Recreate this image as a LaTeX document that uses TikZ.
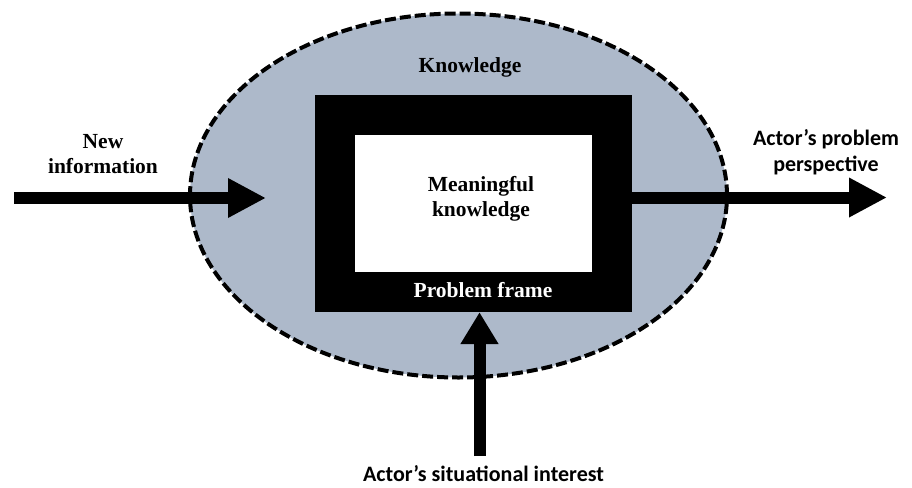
\documentclass[tikz,border=0pt]{standalone}
\usepackage{fontspec}
\setmainfont{Liberation Serif}
\newfontfamily\calfont{Carlito}
\usetikzlibrary{shapes.geometric,arrows.meta}
\definecolor{knowblue}{RGB}{173,185,202}
\tikzset{
  flow/.style={line width=12pt, -{Triangle[length=38pt,width=37pt]}},
  lbl/.style={font=\fontsize{21.5}{24.5}\selectfont\bfseries, align=center, inner sep=0pt},
  callbl/.style={font=\fontsize{22}{25.5}\selectfont\calfont\bfseries, align=center, inner sep=0pt}
}
\begin{document}
\begin{tikzpicture}[x=1pt, y=-1pt]
    \useasboundingbox (0,0) rectangle (912,487);

    % knowledge area
    \node[ellipse, draw, fill=knowblue, line width=4pt, dash pattern=on 11pt off 4pt,
          minimum width=537pt, minimum height=364pt, inner sep=0pt] (know) at (458.5,195.5) {};
    \node[lbl] (knowtxt) at (470,67.5) {Knowledge};

    % problem frame with meaningful knowledge inside
    \node[fill=black, minimum width=317pt, minimum height=217pt, inner sep=0pt] (frame) at (473.5,203.5) {};
    \node[fill=white, minimum width=237pt, minimum height=137pt, inner sep=0pt] (meaning) at (473.5,203.5) {};
    \node[lbl] (meaningtxt) at (481,199) {Meaningful\\knowledge};
    \node[lbl, text=white] (frametxt) at (483,290) {Problem frame};

    % incoming and outgoing flows
    \coordinate (infrom) at (14,198);
    \coordinate (into) at (266,198);
    \coordinate (outto) at (887,197.5);
    \coordinate (interest) at (479.5,456);
    \draw[flow] (infrom) -- (into);
    \draw[flow] (frame.east |- outto) -- (outto);
    \draw[flow, -{Triangle[length=32pt,width=36pt]}] (interest) -- (interest |- frame.south);

    \node[lbl] (newinfo) at (103,154) {New\\information};
    \node[callbl] (persp) at (826,152) {Actor’s problem\\perspective};
    \node[callbl] (interesttxt) at (483.5,473.5) {Actor’s situational interest};
\end{tikzpicture}
\end{document}
